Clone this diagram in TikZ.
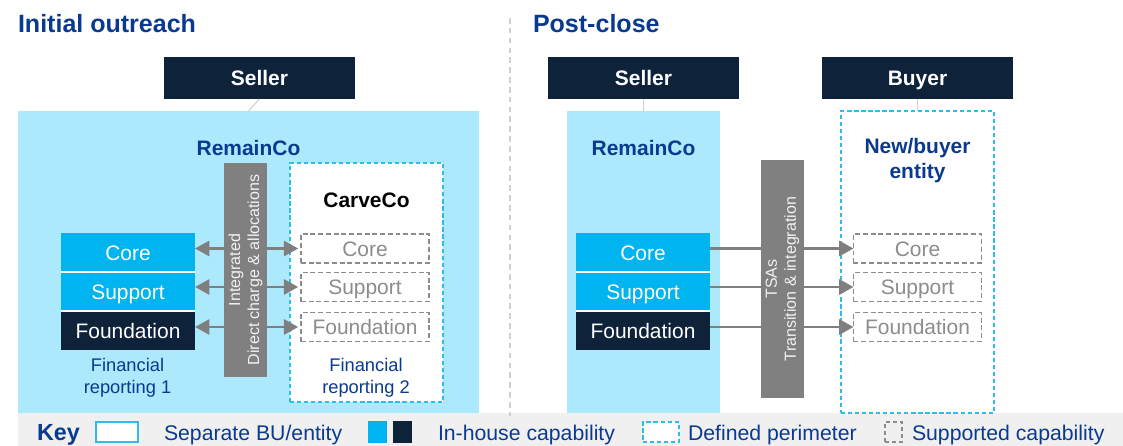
\documentclass[tikz,border=0pt]{standalone}
\usepackage{fontspec}
\setmainfont{Liberation Sans}
\usepackage{xcolor}
\usepackage{tikz}
\usetikzlibrary{arrows.meta,positioning}

\definecolor{navytext}{HTML}{0A3A8F}
\definecolor{navybox}{HTML}{0E2239}
\definecolor{capcyan}{HTML}{00B4F0}
\definecolor{lightcyan}{HTML}{ADE9FC}
\definecolor{perimcyan}{HTML}{2DBDEB}
\definecolor{bargray}{HTML}{808080}
\definecolor{bartext}{HTML}{F2F2F2}
\definecolor{supgray}{HTML}{8C8C8C}
\definecolor{arrowgray}{HTML}{7F7F7F}
\definecolor{keyband}{HTML}{F0F0F0}
\definecolor{divgray}{HTML}{D0D0D0}

\begin{document}
\begin{tikzpicture}[x=0.025cm, y=-0.025cm,
  every node/.style={inner sep=0pt, outer sep=0pt},
  titletext/.style={anchor=base west, text=navytext, font=\fontsize{17.8}{21}\selectfont\bfseries},
  headbox/.style={fill=navybox, text=white, font=\fontsize{14.9}{17}\selectfont\bfseries,
    minimum width=4.775cm, minimum height=1.05cm, text height=10.7pt, text depth=0pt},
  entbox/.style={fill=lightcyan, minimum height=7.55cm},
  perim/.style={draw=perimcyan, fill=white, line width=0.9pt, dash pattern=on 3pt off 2pt},
  entname/.style={text=navytext, font=\fontsize{14.9}{17.8}\selectfont\bfseries},
  capbox/.style={text=white, font=\fontsize{14.9}{17}\selectfont,
    minimum width=3.35cm, minimum height=0.975cm, text height=10.7pt, text depth=0pt},
  supbox/.style={draw=supgray, text=supgray, line width=0.9pt, dash pattern=on 3.5pt off 2pt,
    font=\fontsize{14.9}{17}\selectfont, minimum width=3.2cm, minimum height=0.725cm,
    text height=10.7pt, text depth=0pt},
  sepline/.style={white, line width=1.2pt},
  barbox/.style={fill=bargray, text=bartext, rotate=90, align=center,
    font=\fontsize{11.4}{13.5}\selectfont, minimum height=1.075cm},
  finlbl/.style={text=navytext, align=center, font=\fontsize{13}{15.6}\selectfont},
  tie/.style={draw=divgray, line width=0.8pt},
  linkarrow/.style={draw=arrowgray, line width=0.065cm,
    >={Triangle[length=0.36cm, width=0.38cm]}},
  keytext/.style={anchor=base west, text=navytext, font=\fontsize{15.1}{18}\selectfont}
]
\useasboundingbox (0,0) rectangle (1123,446);

% Key band and divider
\fill[keyband] (18,413) rectangle (1123,446);
\draw[divgray, line width=0.8pt, dash pattern=on 4pt off 3pt] (510,18) -- (510,416);

% Titles
\node[titletext] (title1) at (18,33) {Initial outreach};
\node[titletext] (title2) at (533,33) {Post-close};

% Initial outreach: entities
\node[headbox] (seller1) at (259.5,78) {Seller};
\node[entbox, minimum width=11.525cm] (remain1) at (248.5,262) {};
\draw[tie] (seller1.south) -- (remain1.north);
\node[entname] (remain1lbl) at (248.5,148) {RemainCo};
\node[perim, minimum width=3.825cm, minimum height=5.975cm] (carve) at (366.5,282.5) {};
\node[font=\fontsize{14.9}{17}\selectfont\bfseries] (carvelbl) at (366.5,200) {CarveCo};

% Initial outreach: capabilities
\node[capbox, fill=capcyan] (lcore) at (128,252.5) {Core};
\node[capbox, fill=capcyan] (lsupp) at (128,291.5) {Support};
\node[capbox, fill=navybox] (lfound) at (128,330.5) {Foundation};
\draw[sepline] (lcore.south west) -- (lcore.south east);
\draw[sepline] (lsupp.south west) -- (lsupp.south east);

\node[supbox] (ccore) at (365,248.5) {Core};
\node[supbox] (csupp) at (365,287) {Support};
\node[supbox] (cfound) at (365,327) {Foundation};

\foreach \a/\b in {lcore/ccore, lsupp/csupp, lfound/cfound}
    \draw[linkarrow, <->, shorten >=0.07cm] (\a.east |- \b.west) -- (\b.west);

\node[barbox, minimum width=5.35cm] (bar1) at (245.5,270) {Integrated\\Direct charge \& allocations};

\node[finlbl] (fin1) at (127.5,378) {Financial\\reporting 1};
\node[finlbl] (fin2) at (366,378) {Financial\\reporting 2};

% Post-close: entities
\node[headbox] (seller2) at (643.5,78) {Seller};
\node[headbox] (buyer) at (917.5,78) {Buyer};
\node[entbox, minimum width=3.825cm] (remain2) at (643.5,262) {};
\node[perim, minimum width=3.825cm, minimum height=7.55cm] (newent) at (917.5,262) {};
\draw[tie] (seller2.south) -- (remain2.north);
\draw[tie] (buyer.south) -- (newent.north);
\node[entname] (remain2lbl) at (643.5,148) {RemainCo};
\node[entname, align=center] (newentlbl) at (917.5,161) {New/buyer\\entity};

% Post-close: capabilities
\node[capbox, fill=capcyan] (rcore) at (643,252.5) {Core};
\node[capbox, fill=capcyan] (rsupp) at (643,291.5) {Support};
\node[capbox, fill=navybox] (rfound) at (643,330.5) {Foundation};
\draw[sepline] (rcore.south west) -- (rcore.south east);
\draw[sepline] (rsupp.south west) -- (rsupp.south east);

\node[supbox] (ncore) at (917.5,248.5) {Core};
\node[supbox] (nsupp) at (917.5,287) {Support};
\node[supbox] (nfound) at (917.5,327) {Foundation};

\foreach \a/\b in {rcore/ncore, rsupp/nsupp, rfound/nfound}
    \draw[linkarrow, ->] (\a.east |- \b.west) -- (\b.west);

\node[barbox, minimum width=5.95cm] (bar2) at (782.5,279) {TSAs\\Transition \& integration};

% Key
\node[keytext, font=\fontsize{16.6}{19}\selectfont\bfseries] (keylbl) at (37,440) {Key};
\node[draw=perimcyan, fill=white, line width=0.8pt, minimum width=1.05cm, minimum height=0.5cm] (keybu) at (117,432) {};
\node[keytext] (keybutxt) at (164,440) {Separate BU/entity};
\node[fill=capcyan, minimum width=0.475cm, minimum height=0.55cm] (keycyan) at (377.5,432) {};
\node[fill=navybox, minimum width=0.475cm, minimum height=0.55cm] (keynavy) at (402.5,432) {};
\node[keytext] (keyinhtxt) at (438,440) {In-house capability};
\node[perim, minimum width=0.9cm, minimum height=0.5cm] (keyperim) at (661,432) {};
\node[keytext] (keyperimtxt) at (688,440) {Defined perimeter};
\node[draw=supgray, line width=0.8pt, dash pattern=on 3pt off 2pt, minimum width=0.425cm, minimum height=0.5cm] (keysup) at (893.5,432) {};
\node[keytext] (keysuptxt) at (912,440) {Supported capability};

\end{tikzpicture}
\end{document}
